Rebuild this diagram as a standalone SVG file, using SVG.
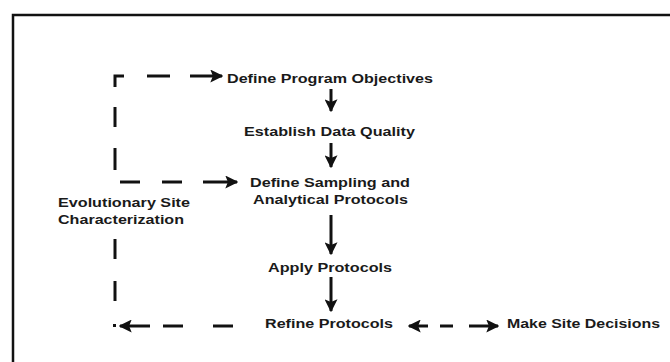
<svg xmlns="http://www.w3.org/2000/svg" width="670" height="362" viewBox="0 0 670 362">
<style>
text{font-family:"Liberation Sans",Arial,sans-serif;font-weight:bold;font-size:13.5px;fill:#1a1a1a}
.d{stroke:#111;stroke-width:3;fill:none}
</style>
<defs>
<marker id="ah" viewBox="0 0 10 10" refX="9" refY="5" markerWidth="13" markerHeight="13" markerUnits="userSpaceOnUse" orient="auto">
<path d="M0,0 L10,5 L0,10 L2,5 Z" fill="#111"/>
</marker>
</defs>
<rect x="0" y="0" width="670" height="362" fill="#fff"/>
<rect x="13" y="15" width="720" height="400" fill="#fff" stroke="#111" stroke-width="2.5"/>
<g id="connectors">
<path class="d" d="M115,87 V76 H124"/>
<path class="d" d="M147,76 H170"/>
<path class="d" d="M190,76 H222" marker-end="url(#ah)"/>
<path class="d" d="M115,107 V127"/>
<path class="d" d="M115,148 V170"/>
<path class="d" d="M120,182 H140"/>
<path class="d" d="M162,182 H182"/>
<path class="d" d="M203,182 H237" marker-end="url(#ah)"/>
<path class="d" d="M115,239 V259"/>
<path class="d" d="M115,281 V301"/>
<rect x="113" y="324" width="3" height="3" fill="#111"/>
<path class="d" d="M150,326 H120" marker-end="url(#ah)"/>
<path class="d" d="M163,326 H183"/>
<path class="d" d="M213,326 H233"/>
<path class="d" d="M331,89 V111" marker-end="url(#ah)"/>
<path class="d" d="M331,143 V167" marker-end="url(#ah)"/>
<path class="d" d="M331,215 V254" marker-end="url(#ah)"/>
<path class="d" d="M331,277 V311" marker-end="url(#ah)"/>
<path class="d" d="M428,326 H409" marker-end="url(#ah)"/>
<path class="d" d="M440,326 H453"/>
<path class="d" d="M469,326 H498" marker-end="url(#ah)"/>
</g>
<g id="objectives"><text x="227" y="83" textLength="206" lengthAdjust="spacingAndGlyphs">Define Program Objectives</text></g>
<g id="dataquality"><text x="244" y="136" textLength="171" lengthAdjust="spacingAndGlyphs">Establish Data Quality</text></g>
<g id="sampling"><text x="250" y="187" textLength="160" lengthAdjust="spacingAndGlyphs">Define Sampling and</text><text x="253" y="204" textLength="155" lengthAdjust="spacingAndGlyphs">Analytical Protocols</text></g>
<g id="apply"><text x="268" y="272" textLength="124" lengthAdjust="spacingAndGlyphs">Apply Protocols</text></g>
<g id="refine"><text x="265" y="328" textLength="128" lengthAdjust="spacingAndGlyphs">Refine Protocols</text></g>
<g id="decisions"><text x="507" y="328" textLength="153" lengthAdjust="spacingAndGlyphs">Make Site Decisions</text></g>
<g id="evolutionary"><text x="58" y="207" textLength="132" lengthAdjust="spacingAndGlyphs">Evolutionary Site</text><text x="58" y="224" textLength="126" lengthAdjust="spacingAndGlyphs">Characterization</text></g>
</svg>
